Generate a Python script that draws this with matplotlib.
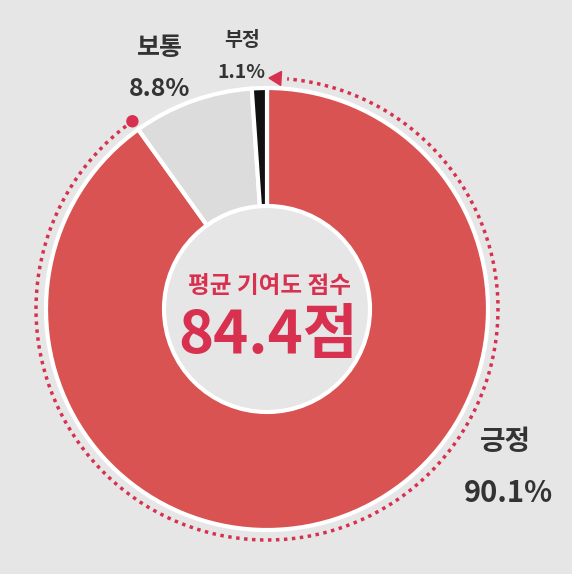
import numpy as np
import matplotlib
matplotlib.use("Agg")
import matplotlib.pyplot as plt
from matplotlib.patches import Circle, Arc, Polygon

plt.rcParams['font.family'] = ['Noto Sans CJK KR', 'DejaVu Sans']

# data
labels = ["긍정", "보통", "부정"]
shares = [90.1, 8.8, 1.1]
colors = ["#D95353", "#DCDCDC", "#111111"]
score = 84.4
score_title = "평균 기여도 점수"

W, H = 572, 574
bg = "#E6E6E6"
accent = "#D8304F"
text_dark = "#333333"

fig = plt.figure(figsize=(W / 100, H / 100), dpi=100, facecolor=bg)
ax = fig.add_axes([0, 0, 1, 1])

cx, cy = 267, H - 309
r_out, r_in = 221, 103

ax.pie(shares, colors=colors, startangle=90, counterclock=False,
       radius=r_out, center=(cx, cy),
       wedgeprops=dict(edgecolor="white", linewidth=3))
ax.set_xlim(0, W)
ax.set_ylim(0, H)
ax.set_aspect("equal")
ax.axis("off")

# inner disc
ax.add_patch(Circle((cx, cy), r_in, facecolor=bg, edgecolor="white", linewidth=3, zorder=3))

# dotted ring following the 긍정 share
r_dot = 231
end_ang = 90 - 360 * shares[0] / 100   # where 긍정 ends (clockwise from top)
start_ang = 90 - 5
ax.add_patch(Arc((cx, cy), 2 * r_dot, 2 * r_dot, theta1=end_ang, theta2=start_ang,
                 color=accent, linewidth=2.5, linestyle=(0, (1, 1.3)), zorder=4))
# round marker at the end
ea = np.deg2rad(end_ang)
ax.add_patch(Circle((cx + r_dot * np.cos(ea), cy + r_dot * np.sin(ea)), 5.5,
                    color=accent, zorder=5))
# arrowhead at the start, pointing counter-clockwise
sa = np.deg2rad(start_ang + 1.5)
tip_a = np.deg2rad(start_ang + 4.5)
tip = (cx + r_dot * np.cos(tip_a), cy + r_dot * np.sin(tip_a))
b1 = (cx + (r_dot + 7) * np.cos(sa), cy + (r_dot + 7) * np.sin(sa))
b2 = (cx + (r_dot - 7) * np.cos(sa), cy + (r_dot - 7) * np.sin(sa))
ax.add_patch(Polygon([tip, b1, b2], closed=True, color=accent, zorder=5))

# centre text
ax.text(cx + 3, H - 286, score_title, ha="center", va="center",
        fontsize=17, fontweight="semibold", color=accent, zorder=6)
ax.text(cx + 1, H - 336, f"{score}점", ha="center", va="center",
        fontsize=43, fontweight="semibold", color=accent, zorder=6)

# slice labels
ax.text(160, H - 48, labels[1], ha="center", va="center", fontsize=18,
        fontweight="bold", color=text_dark)
ax.text(160, H - 89, f"{shares[1]}%", ha="center", va="center", fontsize=18,
        fontweight="bold", color=text_dark)
ax.text(242, H - 40, labels[2], ha="center", va="center", fontsize=14,
        fontweight="bold", color=text_dark)
ax.text(241, H - 72, f"{shares[2]}%", ha="center", va="center", fontsize=14,
        fontweight="bold", color=text_dark)
ax.text(505, H - 442, labels[0], ha="center", va="center", fontsize=20,
        fontweight="bold", color=text_dark)
ax.text(508, H - 493, f"{shares[0]}%", ha="center", va="center", fontsize=21,
        fontweight="bold", color=text_dark)

fig.savefig("out.png", dpi=100, facecolor=bg)
